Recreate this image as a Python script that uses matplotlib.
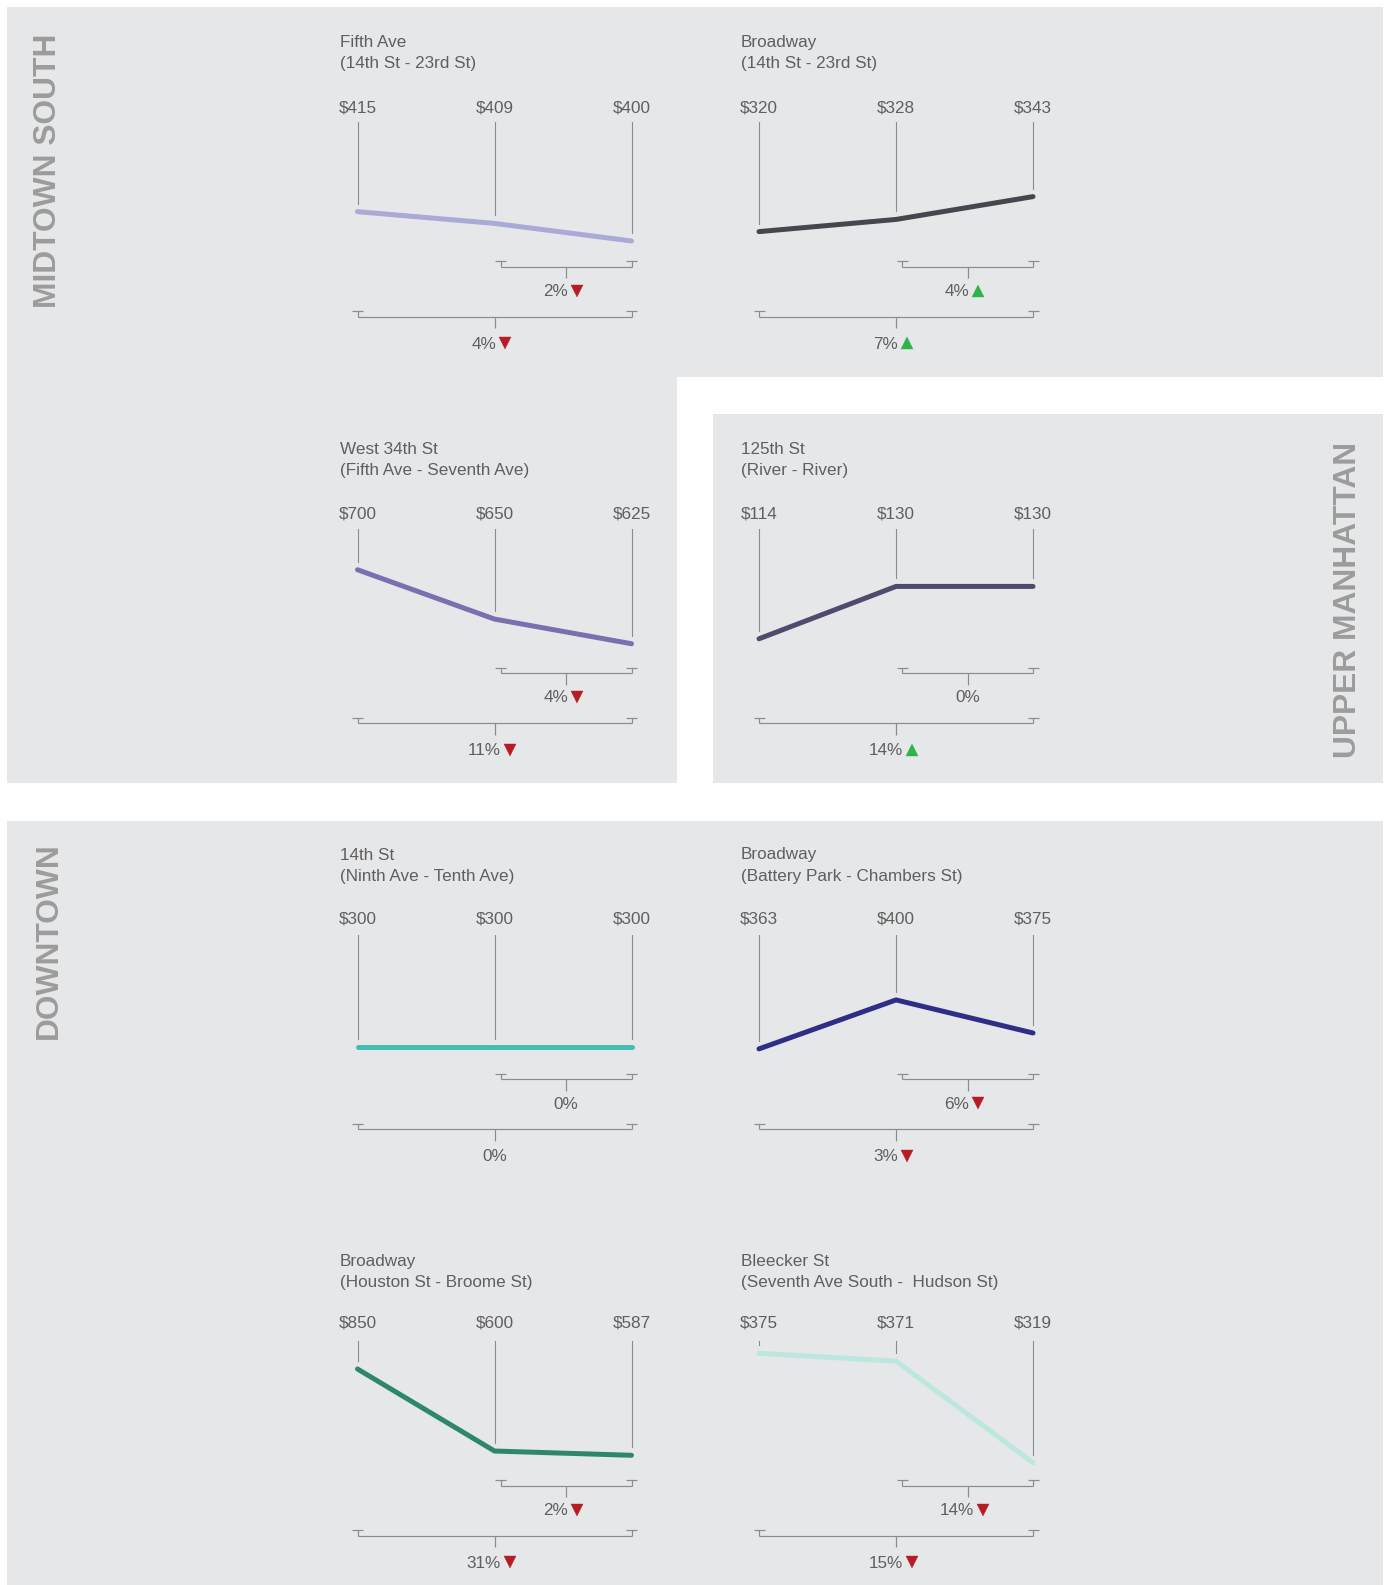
import matplotlib
matplotlib.use("Agg")
import matplotlib.pyplot as plt
from matplotlib.patches import Rectangle

W, H = 1385, 1585

# chart data
streets = ["Fifth Ave", "Broadway", "West 34th St", "125th St",
           "14th St", "Broadway", "Broadway", "Bleecker St"]
segments = ["(14th St - 23rd St)", "(14th St - 23rd St)", "(Fifth Ave - Seventh Ave)",
            "(River - River)", "(Ninth Ave - Tenth Ave)", "(Battery Park - Chambers St)",
            "(Houston St - Broome St)", "(Seventh Ave South -  Hudson St)"]
rents = [[415, 409, 400],
         [320, 328, 343],
         [700, 650, 625],
         [114, 130, 130],
         [300, 300, 300],
         [363, 400, 375],
         [850, 600, 587],
         [375, 371, 319]]
short_change = ["2%", "4%", "4%", "0%", "0%", "6%", "2%", "14%"]
short_dir = ["down", "up", "down", None, None, "down", "down", "down"]
long_change = ["4%", "7%", "11%", "14%", "0%", "3%", "31%", "15%"]
long_dir = ["down", "up", "down", "up", None, "down", "down", "down"]
sections = ["MIDTOWN SOUTH", "UPPER MANHATTAN", "DOWNTOWN"]

# styling
line_colors = ["#aaaad7", "#46464e", "#7a70b0", "#504a6e",
               "#45beb2", "#2e2e86", "#2e876c", "#bce6e0"]
y_limits = [(396.3, 460.8), (309.1, 391.9), (614.1, 741.8), (109.2, 147.7),
            (286.5, 412.5), (354.0, 449.2), (550.7, 934.7), (316.7, 381.2)]
panel_bg = "#e6e7e9"
text_col = "#5f5f5f"
rule_col = "#8c8c8c"
up_col = "#2db34a"
down_col = "#b51c24"
font = "Liberation Sans"
fs = 12.3

PX = 72 / 100  # points per pixel

fig = plt.figure(figsize=(W / 100, H / 100), dpi=100)
fig.patch.set_facecolor("white")
ax0 = fig.add_axes([0, 0, 1, 1])
ax0.set_xlim(0, W)
ax0.set_ylim(H, 0)
ax0.axis("off")
ax0.patch.set_alpha(0)

# grey panels
for (x1, y1, x2, y2) in [(7, 7, 1383, 377), (7, 7, 677, 783),
                         (713, 414, 1383, 783), (7, 821, 1383, 1585)]:
    ax0.add_patch(Rectangle((x1, y1), x2 - x1, y2 - y1, facecolor=panel_bg,
                            edgecolor="none", zorder=0))

sec_kw = dict(fontsize=22.9, fontweight="bold", color="#9c9c9c", family=font,
              rotation=90, ha="center")
ax0.text(48.5, 33, sections[0], va="top", **sec_kw)
ax0.text(1348, 758, sections[1], va="bottom", **sec_kw)
ax0.text(48.5, 842, sections[2], va="top", **sec_kw)

renderer = fig.canvas.get_renderer()
col_x = [357.5, 759]
step = 137
row_title = [42.5, 449.0, 855.0, 1261.5]
row_label = [108, 514.3, 919.3, 1323.3]
row_top = [41.7, 448.0, 854.3, 1260.7]
ax_h = 126


def seg(xs, ys):
    ax0.plot(xs, ys, color=rule_col, lw=1.2 * PX, solid_capstyle="butt", zorder=2)


def bracket(xa, xb, y_cap, y_bar):
    for xe in (xa, xb):
        seg([xe - 5.5, xe + 5.5], [y_cap, y_cap])
        seg([xe, xe], [y_cap, y_bar])
    seg([xa, xb], [y_bar, y_bar])
    xm = (xa + xb) / 2
    seg([xm, xm], [y_bar, y_bar + 11.5])
    return xm


def change_label(x, y, txt, direction):
    kw = dict(fontsize=fs, color=text_col, family=font, va="center", ha="center")
    if direction is None:
        ax0.text(x, y + 1, txt, **kw)
        return
    t = ax0.text(x - 10.5, y + 1, txt, **kw)
    bb = t.get_window_extent(renderer)
    col = down_col if direction == "down" else up_col
    ax0.plot(bb.x1 + 9, y, marker="v" if direction == "down" else "^",
             ms=8.2, color=col, mec=col, mew=0.3, zorder=3)


for i in range(len(streets)):
    r, c = divmod(i, 2)
    x0 = col_x[c]
    top = row_top[r]
    xs = [x0 + step * j for j in range(3)]

    ax0.text(x0 - 18, row_title[r], streets[i], fontsize=fs, color=text_col,
             family=font, ha="left", va="center")
    ax0.text(x0 - 18, row_title[r] + 21, segments[i], fontsize=fs, color=text_col,
             family=font, ha="left", va="center")

    ax = fig.add_axes([x0 / W, 1 - (top + 80.5 + ax_h) / H, 2 * step / W, ax_h / H])
    ax.set_xlim(0, 2)
    ax.set_ylim(*y_limits[i])
    ax.axis("off")
    ax.patch.set_alpha(0)
    ax.plot(range(3), rents[i], color=line_colors[i], lw=5 * PX,
            solid_capstyle="round", solid_joinstyle="round", clip_on=False, zorder=4)

    for j, v in enumerate(rents[i]):
        ax0.text(xs[j], row_label[r], f"${v}", fontsize=fs, color=text_col,
                 family=font, ha="center", va="center")
        yd = H - ax.transData.transform((j, v))[1]
        ax0.plot([xs[j], xs[j]], [top + 80.5, yd - 8], color=rule_col,
                 lw=1.1 * PX, zorder=1)

    xm = bracket(xs[1] + 6, xs[2], top + 219.5, top + 225)
    change_label(xm, top + 249, short_change[i], short_dir[i])
    xm = bracket(xs[0], xs[2], top + 269.7, top + 275)
    change_label(xm, top + 301.5, long_change[i], long_dir[i])

fig.savefig("out.png", dpi=100, facecolor="white")
